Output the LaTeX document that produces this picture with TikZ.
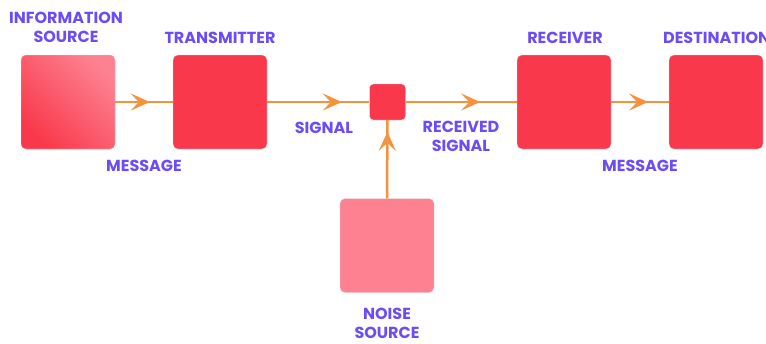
\documentclass[tikz,border=0pt]{standalone}
\usepackage{fontspec}
\setmainfont{Poppins}
\usetikzlibrary{arrows.meta, decorations.markings, positioning}

\definecolor{boxred}{HTML}{F9394B}
\definecolor{boxpink}{HTML}{FD8191}
\definecolor{wireorange}{HTML}{F5923E}
\definecolor{labelviolet}{HTML}{6B4CF6}

\begin{document}
\begin{tikzpicture}[
            x = 1pt, y = -1pt, % pixel units, y grows downwards
            > = {Stealth[length=19pt, width=17pt, inset=8pt]}, % arrow head style
            font = \fontsize{16}{18.5}\selectfont\bfseries,
            midarrow/.style = {
                postaction = {decorate},
                decoration = {markings, mark = at position #1 with {\arrow{>}}}
            }
        ]

        \tikzstyle{block}=[
            draw = black!12,
            very thin,
            fill = boxred,
            rounded corners = 5pt,
            minimum size = 94pt,
            inner sep = 0pt
        ]
        \tikzstyle{tag}=[
            text = labelviolet,
            align = center,
            inner sep = 0pt
        ]
        \tikzstyle{wire}=[
            draw = wireorange,
            line width = 2.5pt
        ]

        \useasboundingbox (0,0) rectangle (766,343);

        % boxes
        \node[block, left color = boxred, right color = boxpink, shading angle = 135] (info) at (68,102) {};
        \node[block] (trans) at (220,102) {};
        \node[block, minimum size = 36pt, rounded corners = 4pt] (chan) at (387.5,102) {};
        \node[block] (recv) at (564,102) {};
        \node[block] (dest) at (716,102) {};
        \node[block, fill = boxpink] (noise) at (387,245.5) {};

        % connectors
        \draw[wire, midarrow=0.6] (info.east) -- (trans.west);
        \draw[wire, midarrow=0.73] (trans.east) -- (chan.west);
        \draw[wire, midarrow=0.67] (chan.east) -- (recv.west);
        \draw[wire, midarrow=0.64] (recv.east) -- (dest.west);
        \draw[wire, midarrow=0.85] (noise.north) -- (chan.south);

        % labels
        \node[tag] (infotag) at (66,27.5) {INFORMATION\\SOURCE};
        \node[tag] (transtag) at (220,37.5) {TRANSMITTER};
        \node[tag] (msgtag) at (144,166) {MESSAGE};
        \node[tag] (sigtag) at (324,127.5) {SIGNAL};
        \node[tag] (rsigtag) at (461,136.5) {RECEIVED\\SIGNAL};
        \node[tag] (recvtag) at (565,37.5) {RECEIVER};
        \node[tag, anchor = west] (desttag) at (663,37.5) {DESTINATION};
        \node[tag] (msg2tag) at (640,166) {MESSAGE};
        \node[tag] (noisetag) at (387,323.5) {NOISE\\SOURCE};

    \end{tikzpicture}
\end{document}
